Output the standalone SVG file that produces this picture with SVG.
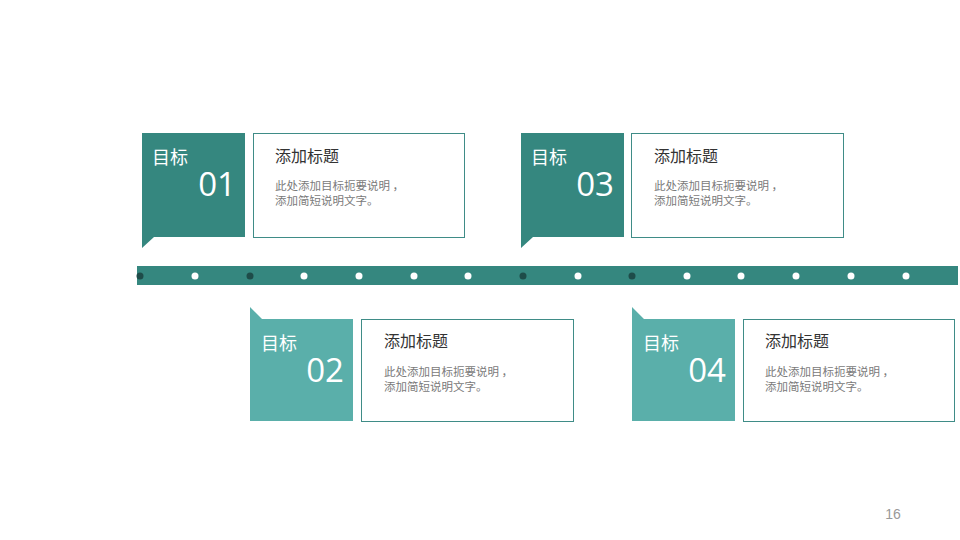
<svg xmlns="http://www.w3.org/2000/svg" width="960" height="540" viewBox="0 0 960 540">
<style>
.dark{fill:#35877f}
.light{fill:#5aafaa}
.card{fill:#fff;stroke:#3f8c87;stroke-width:1}
.lbl{font-family:"Microsoft YaHei","Noto Sans CJK SC",sans-serif;fill:#fff;font-size:18px}
.num{font-family:"Open Sans","Noto Sans",sans-serif;fill:#fff;font-size:33px;text-anchor:end}
.ttl{font-family:"Noto Sans CJK SC",sans-serif;fill:#333;font-size:16px}
.dsc{font-family:"Noto Sans CJK SC",sans-serif;fill:#7a7a7a;font-size:11.5px}
.dw{fill:#fff}
.dd{fill:#1e4c49}
</style>
<rect width="960" height="540" fill="#fff"/>
<g id="timeline">
<rect x="137" y="266" width="821" height="19" fill="#35877f"/>
<circle class="dd" cx="140" cy="276" r="3.5"/>
<circle class="dw" cx="195" cy="276" r="3.5"/>
<circle class="dd" cx="250" cy="276" r="3.5"/>
<circle class="dw" cx="304" cy="276" r="3.5"/>
<circle class="dw" cx="359" cy="276" r="3.5"/>
<circle class="dw" cx="414" cy="276" r="3.5"/>
<circle class="dw" cx="468" cy="276" r="3.5"/>
<circle class="dd" cx="523" cy="276" r="3.5"/>
<circle class="dw" cx="578" cy="276" r="3.5"/>
<circle class="dd" cx="632" cy="276" r="3.5"/>
<circle class="dw" cx="687" cy="276" r="3.5"/>
<circle class="dw" cx="741" cy="276" r="3.5"/>
<circle class="dw" cx="796" cy="276" r="3.5"/>
<circle class="dw" cx="851" cy="276" r="3.5"/>
<circle class="dw" cx="906" cy="276" r="3.5"/>
</g>
<g id="goal1">
<polygon class="dark" points="142,133 245,133 245,237 154,237 142,248"/>
<text class="lbl" x="152" y="164">目标</text>
<text class="num" x="236" y="196">01</text>
<rect class="card" x="253.5" y="133.5" width="211" height="104"/>
<text class="ttl" x="275" y="162">添加标题</text>
<text class="dsc" x="275" y="190">此处添加目标扼要说明 ，</text>
<text class="dsc" x="275" y="205">添加简短说明文字。</text>
</g>
<g id="goal2">
<polygon class="light" points="250,307 262,319 353,319 353,421 250,421"/>
<text class="lbl" x="261" y="350">目标</text>
<text class="num" x="344" y="382">02</text>
<rect class="card" x="361.5" y="319.5" width="212" height="102"/>
<text class="ttl" x="384" y="347">添加标题</text>
<text class="dsc" x="384" y="376">此处添加目标扼要说明 ，</text>
<text class="dsc" x="384" y="391">添加简短说明文字。</text>
</g>
<g id="goal3">
<polygon class="dark" points="521,133 624,133 624,237 533,237 521,248"/>
<text class="lbl" x="531" y="164">目标</text>
<text class="num" x="614" y="196">03</text>
<rect class="card" x="631.5" y="133.5" width="212" height="104"/>
<text class="ttl" x="654" y="162">添加标题</text>
<text class="dsc" x="654" y="190">此处添加目标扼要说明 ，</text>
<text class="dsc" x="654" y="205">添加简短说明文字。</text>
</g>
<g id="goal4">
<polygon class="light" points="632,307 644,319 735,319 735,421 632,421"/>
<text class="lbl" x="643" y="350">目标</text>
<text class="num" x="726" y="382">04</text>
<rect class="card" x="743.5" y="319.5" width="211" height="102"/>
<text class="ttl" x="765" y="347">添加标题</text>
<text class="dsc" x="765" y="376">此处添加目标扼要说明 ，</text>
<text class="dsc" x="765" y="391">添加简短说明文字。</text>
</g>
<text x="893" y="519" font-family="'Liberation Sans',sans-serif" font-size="14" fill="#999" text-anchor="middle">16</text>
</svg>
